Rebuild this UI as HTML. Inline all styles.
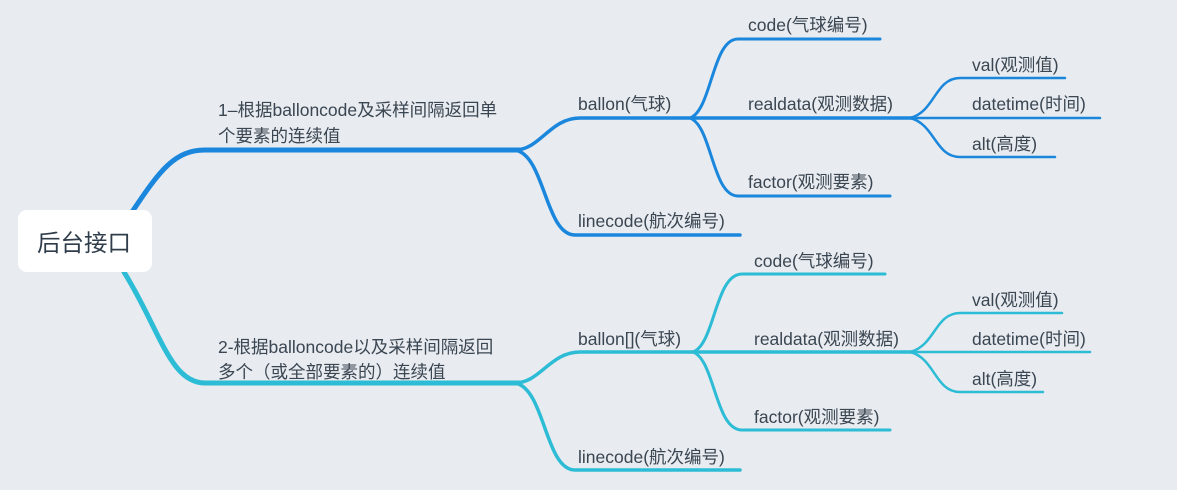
<!DOCTYPE html>
<html><head><meta charset="utf-8"><style>
html,body{margin:0;padding:0;background:#e8ebef;}
svg{display:block;}
text{font-family:"Liberation Sans","Noto Sans CJK SC",sans-serif;fill:#3a4652;font-size:17.5px;}
</style></head><body>
<svg width="1177" height="490" viewBox="0 0 1177 490">
<rect width="1177" height="490" fill="#e8ebef"/>
<g fill="none" stroke-linecap="round">
<g stroke="#1a87dd">
<path d="M132 212 C160 170 175 150 205 150 L520 150" stroke-width="5"/>
<path d="M515 150 C540 150 550 118 580 118 L915 118" stroke-width="3.5"/>
<path d="M515 150 C545 155 545 235 575 235 L740 235" stroke-width="3.5"/>
<path d="M690 118 C712 110 712 39 738 39 L880 39" stroke-width="3"/>
<path d="M690 118 C712 126 712 196 738 196 L890 196" stroke-width="3"/>
<path d="M910 118 C935 112 935 78 960 78 L1065 78" stroke-width="2.5"/>
<path d="M910 118 L1100 118" stroke-width="2.5"/>
<path d="M910 118 C935 124 935 157 960 157 L1055 157" stroke-width="2.5"/>
</g>
<g stroke="#2cbcd5">
<path d="M124 272 C160 330 170 383 205 383 L520 383" stroke-width="5"/>
<path d="M515 383 C540 383 550 352 580 352 L915 352" stroke-width="3.5"/>
<path d="M515 383 C545 388 545 470 575 470 L740 470" stroke-width="3.5"/>
<path d="M693 352 C715 344 715 274 742 274 L885 274" stroke-width="3"/>
<path d="M693 352 C715 360 715 430 742 430 L890 430" stroke-width="3"/>
<path d="M910 352 C935 346 935 313 960 313 L1062 313" stroke-width="2.5"/>
<path d="M910 352 L1090 352" stroke-width="2.5"/>
<path d="M910 352 C935 358 935 392 960 392 L1043 392" stroke-width="2.5"/>
</g>
</g>
<rect x="18" y="210" width="134" height="62" rx="9" fill="#fff"/>
<text x="37" y="251" style="font-size:23.5px;fill:#2f3d4a">后台接口</text>

<text x="218" y="116">1–根据balloncode及采样间隔返回单</text>
<text x="218" y="142">个要素的连续值</text>
<text x="578" y="110">ballon(气球)</text>
<text x="578" y="227">linecode(航次编号)</text>
<text x="748" y="31">code(气球编号)</text>
<text x="748" y="110">realdata(观测数据)</text>
<text x="748" y="188">factor(观测要素)</text>
<text x="972" y="71">val(观测值)</text>
<text x="972" y="110">datetime(时间)</text>
<text x="972" y="150">alt(高度)</text>

<text x="218" y="353">2-根据balloncode以及采样间隔返回</text>
<text x="218" y="378">多个（或全部要素的）连续值</text>
<text x="578" y="345">ballon[](气球)</text>
<text x="578" y="463">linecode(航次编号)</text>
<text x="754" y="267">code(气球编号)</text>
<text x="754" y="345">realdata(观测数据)</text>
<text x="754" y="423">factor(观测要素)</text>
<text x="972" y="306">val(观测值)</text>
<text x="972" y="345">datetime(时间)</text>
<text x="972" y="385">alt(高度)</text>
</svg>
</body></html>
